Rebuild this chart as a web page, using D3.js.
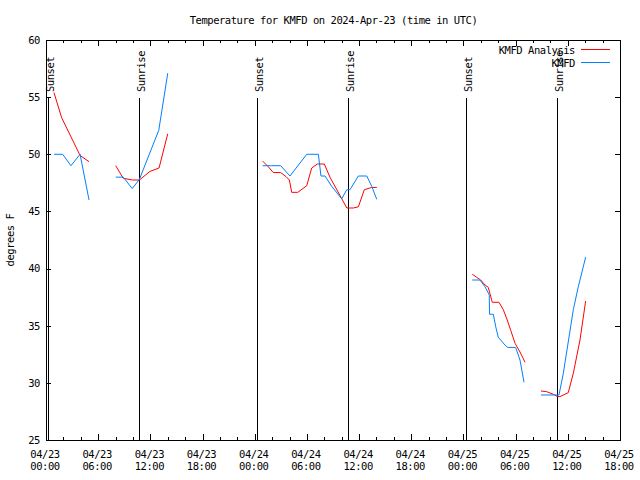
<!DOCTYPE html>
<html><head><meta charset="utf-8">
<script src="https://cdn.jsdelivr.net/npm/d3@7"></script>
<style>body{margin:0;background:#fff}svg{display:block}</style>
</head><body>
<script>
// ---------- data ----------
const chartTitle = "Temperature for KMFD on 2024-Apr-23 (time in UTC)";
const yAxisLabel = "degrees F";
const seriesNames = ["KMFD Analysis", "KMFD"];
const seriesColors = ["#ff0000", "#0080ff"];
const yTickValues = [25, 30, 35, 40, 45, 50, 55, 60];
const xDomain = ["2024-04-23 00:00", "2024-04-25 18:00"];
const sunsetTimes = ["2024-04-23 00:16", "2024-04-24 00:18", "2024-04-25 00:18"];
const sunriseTimes = ["2024-04-23 10:44", "2024-04-24 10:46", "2024-04-25 10:48"];

// KMFD Analysis (red); null = gap
const analysisTimes = [
  "2024-04-23 00:55","2024-04-23 01:48","2024-04-23 03:55","2024-04-23 04:57",
  "2024-04-23 06:30",
  "2024-04-23 08:01","2024-04-23 08:53","2024-04-23 09:57","2024-04-23 10:44","2024-04-23 11:57","2024-04-23 13:00","2024-04-23 14:00",
  "2024-04-23 18:00",
  "2024-04-24 00:55","2024-04-24 01:34","2024-04-24 02:08","2024-04-24 02:59","2024-04-24 03:36","2024-04-24 03:59","2024-04-24 04:15",
  "2024-04-24 04:57","2024-04-24 05:59","2024-04-24 06:33","2024-04-24 07:12","2024-04-24 08:00","2024-04-24 08:39","2024-04-24 09:48",
  "2024-04-24 10:35","2024-04-24 11:20","2024-04-24 11:55","2024-04-24 12:36","2024-04-24 13:27","2024-04-24 14:02",
  "2024-04-24 18:00",
  "2024-04-25 01:01","2024-04-25 01:31","2024-04-25 01:59","2024-04-25 02:29","2024-04-25 02:51","2024-04-25 03:03","2024-04-25 03:19",
  "2024-04-25 04:05","2024-04-25 04:35","2024-04-25 05:02","2024-04-25 05:26","2024-04-25 05:56","2024-04-25 06:30","2024-04-25 07:05",
  "2024-04-25 08:00",
  "2024-04-25 08:55","2024-04-25 09:34","2024-04-25 10:20","2024-04-25 10:48","2024-04-25 11:06","2024-04-25 12:03","2024-04-25 12:38",
  "2024-04-25 13:24","2024-04-25 14:03"
];
const analysisTemps = [
  55.4, 53.2, 49.9, 49.35,
  null,
  49.0, 47.9, 47.75, 47.75, 48.5, 48.8, 51.8,
  null,
  49.4, 48.9, 48.4, 48.4, 48.05, 47.75, 46.67,
  46.67, 47.25, 48.8, 49.15, 49.15, 48.0, 46.4,
  45.3, 45.3, 45.4, 46.9, 47.1, 47.1,
  null,
  39.5, 39.24, 39.0, 38.56, 38.36, 37.8, 37.05,
  37.05, 36.4, 35.5, 34.6, 33.46, 32.7, 31.8,
  null,
  29.29, 29.23, 29.0, 28.8, 28.8, 29.14, 30.84,
  33.75, 37.16
];

// KMFD observations (blue); null = gap
const obsTimes = [
  "2024-04-23 00:55","2024-04-23 01:55","2024-04-23 02:52","2024-04-23 03:55","2024-04-23 04:57",
  "2024-04-23 06:30",
  "2024-04-23 08:01","2024-04-23 08:53","2024-04-23 09:55","2024-04-23 10:44","2024-04-23 12:58","2024-04-23 14:00",
  "2024-04-23 18:00",
  "2024-04-24 00:55","2024-04-24 01:55","2024-04-24 02:59","2024-04-24 04:03","2024-04-24 05:59","2024-04-24 07:19","2024-04-24 07:37",
  "2024-04-24 08:05","2024-04-24 08:51","2024-04-24 10:00","2024-04-24 10:35","2024-04-24 10:57","2024-04-24 11:55","2024-04-24 12:53",
  "2024-04-24 13:27","2024-04-24 14:02",
  "2024-04-24 18:00",
  "2024-04-25 01:01","2024-04-25 01:54","2024-04-25 02:29","2024-04-25 02:58","2024-04-25 03:00","2024-04-25 03:26","2024-04-25 03:43",
  "2024-04-25 04:00","2024-04-25 04:47","2024-04-25 05:05","2024-04-25 06:00","2024-04-25 06:30","2024-04-25 06:58",
  "2024-04-25 08:00",
  "2024-04-25 08:55","2024-04-25 10:59","2024-04-25 11:29","2024-04-25 12:38","2024-04-25 13:12","2024-04-25 14:03"
];
const obsTemps = [
  50, 50, 49, 50, 46,
  null,
  48, 48, 47, 47.8, 52.1, 57.1,
  null,
  49, 49, 49, 48.1, 50, 50, 48.1,
  48.1, 47.2, 46.1, 46.9, 46.9, 48.1, 48.1,
  47.2, 46.06,
  null,
  39, 39, 38.4, 37.7, 36, 36, 34.9,
  34.0, 33.3, 33.1, 33.1, 32.0, 30.05,
  null,
  28.94, 28.94, 30.84, 36.4, 38.4, 41.0
];

// ---------- drawing ----------
const W = 640, H = 480;
const L = 46, R = 620, T = 40, B = 440;
const mono = "'DejaVu Sans Mono', monospace";
const fs = 10.5, ls = -0.45;

const parse = d3.utcParse("%Y-%m-%d %H:%M");
const x = d3.scaleUtc().domain(xDomain.map(parse)).range([L, R]);
const y = d3.scaleLinear().domain([25, 60]).range([B, T]);

const svg = d3.select("body").append("svg").attr("width", W).attr("height", H)
  .style("font-family", mono);
svg.append("rect").attr("width", W).attr("height", H).attr("fill", "#fff");

// axes ticks (inward, mirrored)
const majorX = d3.utcHour.every(6).range(x.domain()[0], new Date(+x.domain()[1] + 1));
const minorX = d3.utcHour.every(2).range(x.domain()[0], new Date(+x.domain()[1] + 1))
  .filter(d => d.getUTCHours() % 6 !== 0);

function tickAxis(axisFn, scale, vals, size, tx, ty) {
  const g = svg.append("g").attr("transform", `translate(${tx},${ty})`)
    .attr("shape-rendering", "crispEdges")
    .call(axisFn(scale).tickValues(vals).tickSize(size).tickFormat(""));
  g.select(".domain").remove();
  g.selectAll("line").attr("stroke", "#000");
  return g;
}
tickAxis(d3.axisBottom, x, majorX, -6, 0, B);
tickAxis(d3.axisBottom, x, minorX, -3, 0, B);
tickAxis(d3.axisTop, x, majorX, -6, 0, T);
tickAxis(d3.axisTop, x, minorX, -3, 0, T);
tickAxis(d3.axisLeft, y, yTickValues, -5, L, 0);
tickAxis(d3.axisRight, y, yTickValues, -5, R, 0);

// frame
svg.append("rect").attr("x", L + 0.5).attr("y", T + 0.5)
  .attr("width", R - L).attr("height", B - T)
  .attr("fill", "none").attr("stroke", "#000").attr("shape-rendering", "crispEdges");

// x tick labels
const fmtDay = d3.utcFormat("%m/%d"), fmtTime = d3.utcFormat("%H:%M");
const xl = svg.append("g").attr("font-size", fs).attr("letter-spacing", ls).attr("text-anchor", "middle");
majorX.forEach(d => {
  xl.append("text").attr("x", x(d) - 1).attr("y", 458).text(fmtDay(d));
  xl.append("text").attr("x", x(d) - 1).attr("y", 470).text(fmtTime(d));
});
// y tick labels
const yl = svg.append("g").attr("font-size", fs).attr("letter-spacing", ls).attr("text-anchor", "end");
yTickValues.forEach(v => yl.append("text").attr("x", 40).attr("y", y(v) + 3.8).text(v));

// title
svg.append("text").attr("x", 333.5).attr("y", 23.5).attr("text-anchor", "middle")
  .attr("font-size", fs).attr("letter-spacing", ls).text(chartTitle);
// y label
svg.append("text").attr("transform", "translate(14,240) rotate(-90)")
  .attr("text-anchor", "middle").attr("font-size", fs).attr("letter-spacing", ls).text(yAxisLabel);

// sunrise / sunset markers
const marks = sunsetTimes.map(t => ({t: parse(t), lab: "Sunset"}))
  .concat(sunriseTimes.map(t => ({t: parse(t), lab: "Sunrise"})));
marks.forEach(m => {
  const px = Math.round(x(m.t)) + 0.5;
  svg.append("line").attr("x1", px).attr("x2", px).attr("y1", B).attr("y2", 98)
    .attr("stroke", "#000").attr("shape-rendering", "crispEdges");
});

// data lines
const line = d3.line().defined(d => d.v != null).x(d => x(d.t)).y(d => y(d.v));
const series = [
  analysisTimes.map((t, i) => ({t: parse(t), v: analysisTemps[i]})),
  obsTimes.map((t, i) => ({t: parse(t), v: obsTemps[i]}))
];
series.forEach((s, i) => {
  svg.append("path").datum(s).attr("d", line).attr("fill", "none")
    .attr("stroke", seriesColors[i]).attr("stroke-width", 1);
});

// legend
const lg = svg.append("g").attr("font-size", fs).attr("letter-spacing", ls);
seriesNames.forEach((n, i) => {
  const ly = 49.5 + i * 13;
  lg.append("text").attr("x", 575).attr("y", ly + 4).attr("text-anchor", "end").text(n);
  lg.append("line").attr("x1", 581).attr("x2", 610).attr("y1", ly).attr("y2", ly)
    .attr("stroke", seriesColors[i]).attr("shape-rendering", "crispEdges");
});

// marker labels (drawn last, as in reference they overlap legend)
marks.forEach(m => {
  const px = Math.round(x(m.t)) + 0.5;
  svg.append("text").attr("transform", `translate(${px + 5},92) rotate(-90)`)
    .attr("font-size", fs).attr("letter-spacing", ls).text(m.lab);
});
</script>
</body></html>
